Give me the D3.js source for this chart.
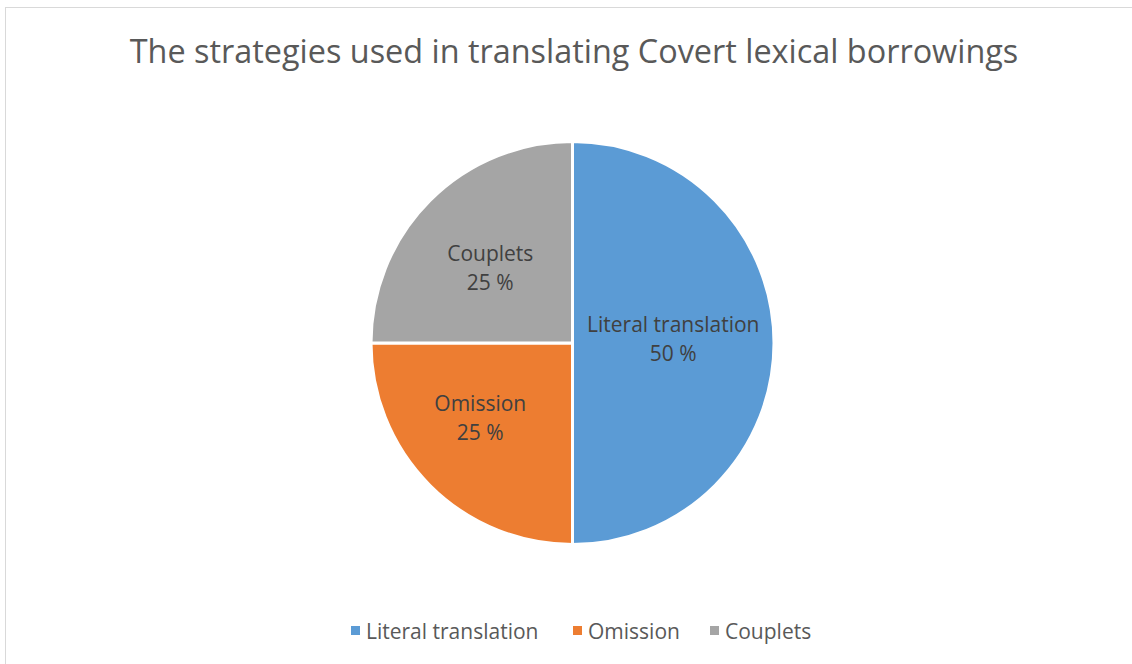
<!DOCTYPE html>
<html>
<head>
<meta charset="utf-8">
<script src="https://cdn.jsdelivr.net/npm/d3@7"></script>
<style>
  body { margin: 0; background: #fff; }
  svg { display: block; font-family: "Open Sans", sans-serif; }
</style>
</head>
<body>
<svg id="chart" width="1132" height="664"></svg>
<script>
const categories = ["Literal translation", "Omission", "Couplets"];
const values = [50, 25, 25];
const colors = ["#5B9BD5", "#ED7D31", "#A5A5A5"];
const title = "The strategies used in translating Covert lexical borrowings";
// small nudges so labels sit where the original's "best fit" put them
const labelNudge = [[0, 0], [-21, 8], [-11, 0]];

const svg = d3.select("#chart");

// outer frame
svg.append("rect")
  .attr("x", 5.5).attr("y", 7.5)
  .attr("width", 1140).attr("height", 670)
  .attr("fill", "#fff").attr("stroke", "#d9d9d9");

svg.append("text")
  .attr("x", 574).attr("y", 63)
  .attr("text-anchor", "middle")
  .attr("font-size", 32.4)
  .attr("fill", "#595959")
  .text(title);

const cx = 572.5, cy = 343, r = 201.5;
const g = svg.append("g").attr("transform", `translate(${cx},${cy})`);

const data = categories.map((c, i) => ({ name: c, value: values[i], color: colors[i], nudge: labelNudge[i] }));
const pie = d3.pie().sort(null).value(d => d.value);
const arc = d3.arc().innerRadius(0).outerRadius(r);
const labelArc = d3.arc().innerRadius(r * 0.5).outerRadius(r * 0.5);

const arcs = pie(data);

g.selectAll("path.slice")
  .data(arcs)
  .enter().append("path")
  .attr("class", "slice")
  .attr("d", arc)
  .attr("fill", d => d.data.color)
  .attr("stroke", "#fff")
  .attr("stroke-width", 3);

const lbl = g.selectAll("text.lbl")
  .data(arcs)
  .enter().append("text")
  .attr("class", "lbl")
  .attr("text-anchor", "middle")
  .attr("font-size", 21)
  .attr("fill", "#404040")
  .attr("transform", d => {
    const c = labelArc.centroid(d);
    return `translate(${c[0] + d.data.nudge[0]},${c[1] + d.data.nudge[1]})`;
  });
lbl.append("tspan").attr("x", 0).attr("y", -11).text(d => d.data.name);
lbl.append("tspan").attr("x", 0).attr("y", 18).text(d => d.data.value + " %");

// legend
const legend = svg.append("g").attr("transform", "translate(0,631)");
const legendX = [351, 573, 710];
const items = legend.selectAll("g.item")
  .data(data)
  .enter().append("g")
  .attr("class", "item")
  .attr("transform", (d, i) => `translate(${legendX[i]},0)`);
items.append("rect")
  .attr("x", 0).attr("y", -5)
  .attr("width", 9).attr("height", 9)
  .attr("fill", d => d.color);
items.append("text")
  .attr("x", 15).attr("y", 7.5)
  .attr("font-size", 21)
  .attr("fill", "#595959")
  .text(d => d.name);
</script>
</body>
</html>
